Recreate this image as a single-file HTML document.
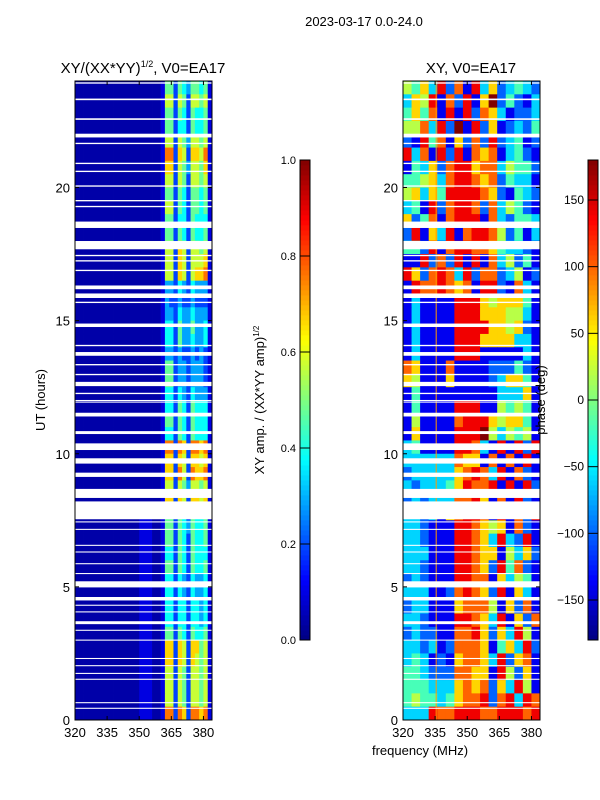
<!DOCTYPE html>
<html><head><meta charset="utf-8"><style>
body{margin:0;background:#fff;}
svg{display:block;font-family:"Liberation Sans",sans-serif;}
</style></head><body>
<svg id="fig" width="600" height="800" xmlns="http://www.w3.org/2000/svg">
<text x="364" y="26" font-size="13" text-anchor="middle">2023-03-17 0.0-24.0</text>
<text x="143" y="73" font-size="15" text-anchor="middle">XY/(XX*YY)<tspan font-size="9" dy="-6">1/2</tspan><tspan dy="6">, V0=EA17</tspan></text>
<text x="471" y="73" font-size="15" text-anchor="middle">XY, V0=EA17</text>
<g id="leftHm"></g>
<g id="rightHm"></g>
<g id="axes"></g>
<g id="cbars"></g>
<text transform="translate(45,400) rotate(-90)" font-size="13" text-anchor="middle">UT (hours)</text>
<text x="420" y="755" font-size="13" text-anchor="middle">frequency (MHz)</text>
<text transform="translate(264,400) rotate(-90)" font-size="13" text-anchor="middle">XY amp. / (XX*YY amp)<tspan font-size="8" dy="-5">1/2</tspan></text>
<text transform="translate(545,400) rotate(-90)" font-size="13" text-anchor="middle">phase (deg)</text>
</svg>
<script>
// ---- data ----
const hourStart = 0, hourEnd = 24, rowHours = 0.5;
const freqStart = 320, freqEnd = 384;
const xTicks = [320, 335, 350, 365, 380];
const yTicks = [0, 5, 10, 15, 20];
const ampTicks = ["0.0","0.2","0.4","0.6","0.8","1.0"];
const phaseTicks = [-150,-100,-50,0,50,100,150];
// amplitude rows (top = 23.5-24h), digit d -> d/10
const ampRows = [
"00000000000000000000155254355451","00000000000000000000166265266561","00000000000000000000155254254451","00000000000000000000155244254451",
"00000000000000000000166265366561","00000000000000000000188276277681","00000000000000000000177265366571","00000000000000000000166265266561",
"00000000000000000000155254255451","00000000000000000000166254255451","00000000000000000000155244254441","00000000000000000000155254254451",
"00000000000000000000166276266561","00000000000000000000166276266671","00000000000000000000166276267781","00000000000000000000133243243331",
"00000000000000000000132232232221","00000000000000000000133243343331","00000000000000000000144253353341","00000000000000000000144253343341",
"00000000000000000000133232232321","00000000000000000000155233233321","00000000000000000000155233233321","00000000000000000000144243243331",
"00000000000000000000144254254441","00000000000000000000155254254441","00000000000000000000144254254441","00000000000000000000188287288781",
"00000000000000000000177276277671","00000000000000000000177286287781","00000000000000000000166265366561","00000000000000000000177276277671",
"00000000000000011100155254254451","00000000000000011100155254354451","00000000000000011100155254254451","00000000000000011100144254254441",
"00000000000000011100155254254451","00000000000000011100144243243341","00000000000000011100144243243341","00000000000000011100144244244341",
"00000000000000011100144244244341","00000000000000011100155254254451","00000000000000011100177276277561","00000000000000011100177276276561",
"00000000000000011100166265266561","00000000000000011100166265266561","00000000000000011100166265266561","00000000000000011100188287288781"];
// phase rows (top = 23.5-24h), digit d -> -180 + 40d
const phaseRows = [
"5463827183623432","3658172816924213","4647181827631223","5573829182612324","2184716272823412","8371828176713421",
"1436278867735442","4456378876724331","5636488887621432","3418278872735421","6247178881732443","2816381788752413",
"4428178877643321","1182728181735241","8627873827723512","1877876718821731","1311118886566641","1311118886665531",
"1311118888665621","1311118886666331","1311118881111131","7611171111222421","6511161111236641","1411111111133361",
"1411118881154541","1511117888656641","1611118889535451","3411118873181828","3333337661717181","2333336787381721",
"3233346877818182","2323337786171821","3323167887181728","3321118876561721","3321118876383281","3331118876615362",
"3321118876284721","2321118877163541","3331127876281631","2331116777516271","3321118876381627","2322117786263851",
"3323127776146382","3431216776382671","4432227766185261","4443336767263851","4544346778278387","3338778887788878"];
// flagged (blank) time intervals in hours
const gaps = [[23.9,23.95],[23.28,23.34],[22.54,22.6],[21.88,22.02],[21.63,21.68],[20.88,20.93],[20.58,20.63],[20.03,20.08],
[19.48,19.53],[19.26,19.31],[18.48,18.72],[17.68,17.99],[17.42,17.47],[17.22,17.27],[16.86,16.91],[16.18,16.32],[15.85,16.02],
[15.66,15.71],[14.76,14.89],[14.04,14.09],[13.68,13.82],[13.32,13.37],[12.95,13.0],[12.54,12.7],[12.24,12.29],[11.98,12.02],
[11.92,11.96],[11.4,11.54],[10.74,10.85],[10.14,10.39],[9.63,9.83],[9.13,9.29],[8.34,8.68],[7.54,8.21],[7.42,7.46],[7.14,7.18],
[6.54,6.58],[6.29,6.33],[5.85,5.89],[5.48,5.52],[4.98,5.21],[4.49,4.62],[4.29,4.33],[4.04,4.08],[3.6,3.71],[3.35,3.39],[2.98,3.02],
[2.29,2.33],[2.02,2.06],[1.73,1.77],[1.51,1.55],[0.63,0.67],[0.42,0.46]];

// ---- layout ----
const NS="http://www.w3.org/2000/svg";
const panels=[{x0:75,x1:212,g:'leftHm',rows:ampRows,val:d=>d===0?0.04:d/10.5},{x0:403,x1:540,g:'rightHm',rows:phaseRows,val:d=>d/9}];
const y0=81,y1=720;
const yScale=h=>y1-(h-hourStart)/(hourEnd-hourStart)*(y1-y0);
function jet(v){const c=t=>Math.round(255*Math.max(0,Math.min(1,t)));
 return `rgb(${c(1.5-Math.abs(4*v-3))},${c(1.5-Math.abs(4*v-2))},${c(1.5-Math.abs(4*v-1))})`;}
function el(tag,attrs,parent){const e=document.createElementNS(NS,tag);for(const k in attrs)e.setAttribute(k,attrs[k]);parent.appendChild(e);return e;}

panels.forEach((p,pi)=>{
 const g=document.getElementById(p.g);
 const xScale=f=>p.x0+(f-freqStart)/(freqEnd-freqStart)*(p.x1-p.x0);
 p.xScale=xScale;
 p.rows.forEach((row,ri)=>{
  const hTop=hourEnd-ri*rowHours, hBot=hTop-rowHours;
  const n=row.length, df=(freqEnd-freqStart)/n;
  for(let ci=0;ci<n;ci++){
   const xa=xScale(freqStart+ci*df), xb=xScale(freqStart+(ci+1)*df);
   const r=el('rect',{x:xa,y:yScale(hTop),width:xb-xa+0.4,height:yScale(hBot)-yScale(hTop)+0.4,fill:jet(p.val(+row[ci]))},g);
   
   
  }
 });
 if(pi===1){
  const l=el('line',{x1:xScale(335.5),x2:xScale(335.5),y1:y0,y2:y1,stroke:'#ff9900','stroke-width':1},g);
  
  
 }
 gaps.forEach(gp=>{
  const r=el('rect',{x:p.x0,y:yScale(gp[1]),width:p.x1-p.x0,height:Math.max(1,yScale(gp[0])-yScale(gp[1])),fill:'#fff'},g);
  
  
 });
 const ax=document.getElementById('axes');
 const fr=el('rect',{x:p.x0,y:y0,width:p.x1-p.x0,height:y1-y0,fill:'none',stroke:'#000','stroke-width':1},ax);
 
 
 xTicks.forEach(t=>{
  const x=xScale(t);
  el('line',{x1:x,x2:x,y1:y1,y2:y1-4,stroke:'#000'},ax);
  el('line',{x1:x,x2:x,y1:y0,y2:y0+4,stroke:'#000'},ax);
  const tx=el('text',{x:x,y:y1+17,'font-size':13,'text-anchor':'middle'},ax);
  tx.textContent=t;
  
  
 });
 yTicks.forEach(t=>{
  const y=yScale(t);
  el('line',{x1:p.x0,x2:p.x0+4,y1:y,y2:y,stroke:'#000'},ax);
  el('line',{x1:p.x1,x2:p.x1-4,y1:y,y2:y,stroke:'#000'},ax);
  const tx=el('text',{x:p.x0-5,y:y+5,'font-size':13,'text-anchor':'end'},ax);
  tx.textContent=t;
  
  
 });
});

// colorbars
const cb=document.getElementById('cbars');
const cbs=[{x:300,ticks:ampTicks.map(s=>[+s,s]),min:0,max:1},{x:588,ticks:phaseTicks.map(v=>[v,v<0?'\u2212'+(-v):''+v]),min:-180,max:180}];
const cy0=160,cy1=640;
cbs.forEach((c,ci)=>{
 for(let i=0;i<96;i++){
  const r=el('rect',{x:c.x,y:cy1-(i+1)*5,width:10,height:5.4,fill:jet((i+0.5)/96)},cb);
  
  
 }
 const fr=el('rect',{x:c.x,y:cy0,width:10,height:cy1-cy0,fill:'none',stroke:'#000'},cb);
 
 
 c.ticks.forEach(([v,s])=>{
  const y=cy1-(v-c.min)/(c.max-c.min)*(cy1-cy0);
  el('line',{x1:c.x,x2:c.x+10,y1:y,y2:y,stroke:'#000'},cb);
  const tx=el('text',{x:c.x-4,y:y+4,'font-size':ci?12:11,'text-anchor':'end'},cb);
  tx.textContent=s;
  
  
 });
});
</script>
</body></html>
